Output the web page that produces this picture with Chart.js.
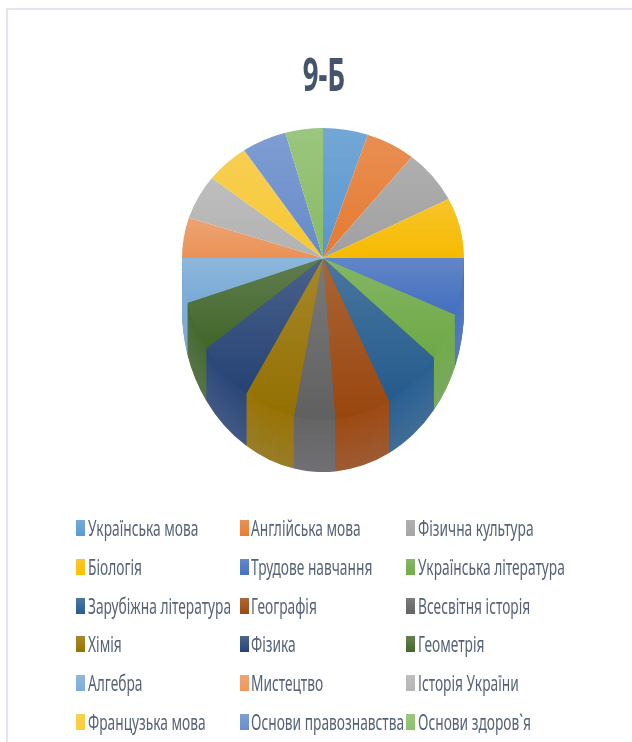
<!DOCTYPE html>
<html lang="uk">
<head>
<meta charset="utf-8">
<title>9-Б</title>
<style>
html,body{margin:0;padding:0;background:#fff;width:632px;height:742px;overflow:hidden}
#wrap{position:relative;width:632px;height:742px;overflow:hidden}
#frame{position:absolute;left:6px;top:8px;right:-4px;bottom:-4px;border:2px solid #e2e5ee;box-sizing:border-box}
canvas{position:absolute;left:0;top:0;filter:blur(.45px)}
.t{position:absolute;white-space:nowrap;transform-origin:0 0;font-family:"Noto Sans",sans-serif;filter:blur(.35px)}
#title{left:324px;top:44px;font-size:46px;line-height:58px;font-weight:700;color:#44546a;transform:translateX(-50%) scaleX(.6);transform-origin:50% 0}
.sw{position:absolute;width:9px;height:16px;filter:blur(.3px)}
.lab{font-size:22px;line-height:28px;color:#566377;transform:scaleX(.625)}
</style>
</head>
<body>
<div id="wrap">
<div id="frame"></div>
<canvas id="c" width="632" height="742"></canvas>
<div id="title" class="t"></div>
<div id="legend"></div>
</div>
<script src="https://cdn.jsdelivr.net/npm/chart.js@4/dist/chart.umd.min.js"></script>
<script>
const chartTitle = "9-Б";
const categories = ["Українська мова","Англійська мова","Фізична культура","Біологія","Трудове навчання","Українська література","Зарубіжна література","Географія","Всесвітня історія","Хімія","Фізика","Геометрія","Алгебра","Мистецтво","Історія України","Французька мова","Основи правознавства","Основи здоров`я"];
const values = [18.5,20.5,24,27,20.5,17.5,24,23,17,21,23,18,16,18,20,18,18.5,15.5];
const colors = ["#5B9BD5","#ED7D31","#A5A5A5","#FFC000","#4472C4","#70AD47","#255E91","#9E480E","#636363","#997300","#264478","#43682B","#7CAFDD","#F1975A","#B7B7B7","#FFCD33","#698ED0","#8CC168"];

const RX = 141, RY_TOP = 130, RY_BOTTOM = 162, DEPTH = 52;

function rgb(h){return [1,3,5].map(i=>parseInt(h.substr(i,2),16));}
function mix(h,o,t){const a=rgb(h),b=rgb(o);return `rgb(${a.map((v,i)=>Math.round(v+(b[i]-v)*t)).join(",")})`;}

const pie3d = {
  id:"pie3d",
  beforeDatasetDraw(chart,args){
    const ctx = chart.ctx, arcs = args.meta.data;
    const cx = arcs[0].x, cy = arcs[0].y, W = chart.width, H = chart.height;
    function half(top,dy,fn){
      ctx.save();
      ctx.beginPath();
      if(top) ctx.rect(0,0,W,cy); else ctx.rect(0,cy+dy,W,H);
      ctx.clip();
      const s = (top?RY_TOP:RY_BOTTOM)/RX;
      ctx.translate(0,cy+dy); ctx.scale(1,s); ctx.translate(0,-cy);
      fn(s);
      ctx.restore();
    }
    function paint(el,fill){
      const saved = el.options;
      el.options = Object.assign({},saved,{backgroundColor:fill,borderWidth:0});
      el.draw(ctx);
      el.options = saved;
    }
    // side wall: lower half extruded downward, deepest layer first
    for(let d=DEPTH;d>=1;d--){
      half(false,d,()=>{
        arcs.forEach((el,i)=>{
          const t=d/DEPTH;
          paint(el,mix(colors[i],"#9a9aa8",0.04+0.2*t));
        });
      });
    }
    // top face
    [true,false].forEach(isTop=>{
      half(isTop,0,s=>{
        arcs.forEach((el,i)=>{
          let lo=0,hi=0;
          for(let k=0;k<=24;k++){
            const a=el.startAngle+(el.endAngle-el.startAngle)*k/24;
            const y=Math.sin(a)*(Math.sin(a)<0?RY_TOP:RY_BOTTOM);
            lo=Math.min(lo,y);hi=Math.max(hi,y);
          }
          const g=ctx.createLinearGradient(0,cy+lo/s,0,cy+hi/s);
          g.addColorStop(0,mix(colors[i],"#d8d8d8",0.2));
          g.addColorStop(1,mix(colors[i],"#000000",0.03));
          paint(el,g);
        });
      });
    });
    return false;
  }
};

const chart = new Chart(document.getElementById("c"),{
  type:"pie",
  data:{labels:categories,datasets:[{data:values,backgroundColor:colors,borderWidth:0,radius:RX}]},
  options:{
    responsive:false,animation:false,
    layout:{padding:{left:14,right:0,top:0,bottom:226}},
    plugins:{legend:{display:false},title:{display:false},tooltip:{enabled:false}}
  },
  plugins:[pie3d]
});

document.getElementById("title").textContent = chartTitle;
const colX=[76,239.5,406], labX=[88,251,418], rowY=[528,567,606,644,683,722], host=document.getElementById("legend");
categories.forEach((name,i)=>{
  const x=colX[i%3], y=rowY[Math.floor(i/3)];
  const sw=document.createElement("div");
  sw.className="sw";
  sw.style.cssText=`left:${x}px;top:${y-8}px;background:linear-gradient(${mix(colors[i],"#d8d8d8",.22)},${colors[i]})`;
  const lab=document.createElement("div");
  lab.className="t lab";
  lab.textContent=name;
  lab.style.left=labX[i%3]+"px";
  lab.style.top=(y-15)+"px";
  host.append(sw,lab);
});
</script>
</body>
</html>
